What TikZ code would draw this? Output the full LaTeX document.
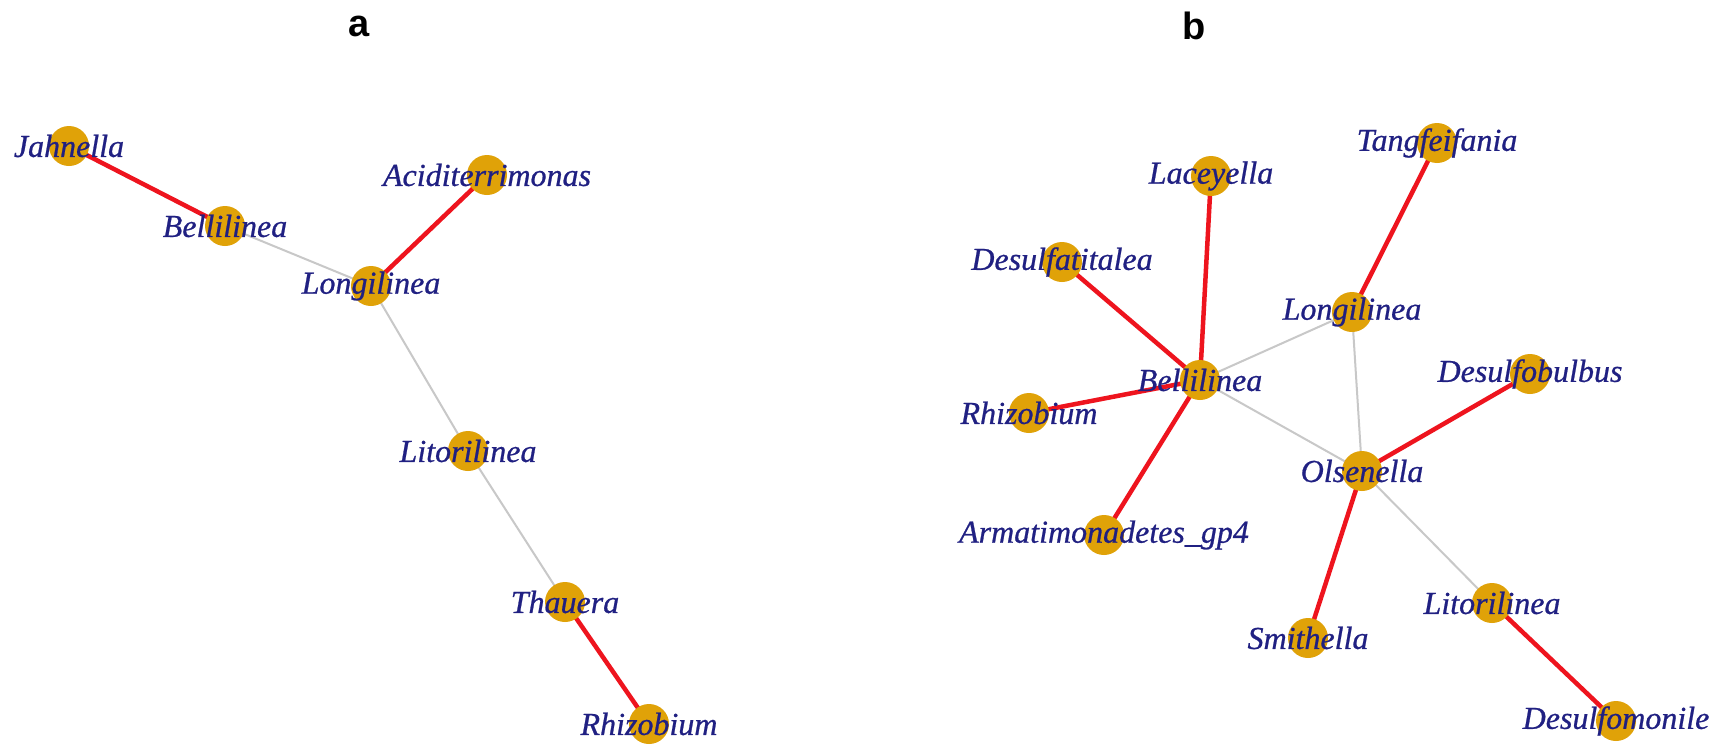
\documentclass[tikz,border=0pt]{standalone}
\usepackage{fontspec}
\setmainfont{Liberation Serif}
\setsansfont{Liberation Sans}
\newfontfamily\labfont{Liberation Serif}[FakeBold=0.7]
\definecolor{nodegold}{RGB}{224,162,8}
\definecolor{labblue}{RGB}{32,32,130}
\definecolor{edgered}{RGB}{238,20,30}
\definecolor{edgegray}{RGB}{200,200,200}
\pgfdeclarelayer{background}
\pgfdeclarelayer{canvas}
\pgfsetlayers{canvas,background,main}
\tikzset{
  vert/.style={circle,fill=nodegold,draw=none,minimum size=40pt,inner sep=0pt},
  lab/.style={text=labblue,font=\fontsize{32}{32}\labfont\itshape,inner sep=0pt},
  redge/.style={draw=edgered,line width=4.5pt},
  gedge/.style={draw=edgegray,line width=2pt},
  panel/.style={font=\fontsize{38}{38}\selectfont\sffamily\bfseries}
}
\begin{document}
\begin{tikzpicture}[x=1pt,y=-1pt]
\useasboundingbox (0,0) rectangle (1726,747);
\begin{pgfonlayer}{canvas}
\fill[white] (0,0) rectangle (1726,747);
\end{pgfonlayer}
% panel labels
\node[panel] (pa) at (359,26) {a};
\node[panel] (pb) at (1194,26) {b};
% panel a
\node[vert,label={[lab]center:Jahnella}] (ajah) at (69,146) {};
\node[vert,label={[lab]center:Bellilinea}] (abel) at (225,226) {};
\node[vert,label={[lab]center:Aciditerrimonas}] (aaci) at (487,175) {};
\node[vert,label={[lab]center:Longilinea}] (alon) at (371,286) {};
\node[vert,label={[lab]center:Litorilinea}] (alit) at (468,451) {};
\node[vert,label={[lab]center:Thauera}] (atha) at (565,602) {};
\node[vert,label={[lab]center:Rhizobium}] (arhi) at (649,724) {};
% panel b
\node[vert,label={[lab]center:Laceyella}] (blac) at (1211,176) {};
\node[vert,label={[lab]center:Tangfeifania}] (btan) at (1437,143) {};
\node[vert,label={[lab]center:Desulfatitalea}] (bdsa) at (1062,262) {};
\node[vert,label={[lab]center:Longilinea}] (blon) at (1352,312) {};
\node[vert,label={[lab]center:Bellilinea}] (bbel) at (1200,380) {};
\node[vert,label={[lab]center:Rhizobium}] (brhi) at (1029,413) {};
\node[vert,label={[lab]center:Desulfobulbus}] (bdsb) at (1530,374) {};
\node[vert,label={[lab]center:Olsenella}] (bols) at (1362,471) {};
\node[vert,label={[lab]center:Armatimonadetes\_gp4}] (barm) at (1104,535) {};
\node[vert,label={[lab]center:Smithella}] (bsmi) at (1308,638) {};
\node[vert,label={[lab]center:Litorilinea}] (blit) at (1492,603) {};
\node[vert,label={[lab]center:Desulfomonile}] (bdsm) at (1616,721) {};
\begin{pgfonlayer}{background}
% panel a edges
\draw[redge] (ajah.center) -- (abel.center);
\draw[gedge] (abel.center) -- (alon.center);
\draw[redge] (aaci.center) -- (alon.center);
\draw[gedge] (alon.center) -- (alit.center);
\draw[gedge] (alit.center) -- (atha.center);
\draw[redge] (atha.center) -- (arhi.center);
% panel b edges
\draw[redge] (blac.center) -- (bbel.center);
\draw[redge] (bdsa.center) -- (bbel.center);
\draw[redge] (brhi.center) -- (bbel.center);
\draw[redge] (barm.center) -- (bbel.center);
\draw[gedge] (bbel.center) -- (blon.center);
\draw[gedge] (bbel.center) -- (bols.center);
\draw[redge] (blon.center) -- (btan.center);
\draw[gedge] (blon.center) -- (bols.center);
\draw[redge] (bols.center) -- (bdsb.center);
\draw[redge] (bols.center) -- (bsmi.center);
\draw[gedge] (bols.center) -- (blit.center);
\draw[redge] (blit.center) -- (bdsm.center);
\end{pgfonlayer}
\end{tikzpicture}
\end{document}
